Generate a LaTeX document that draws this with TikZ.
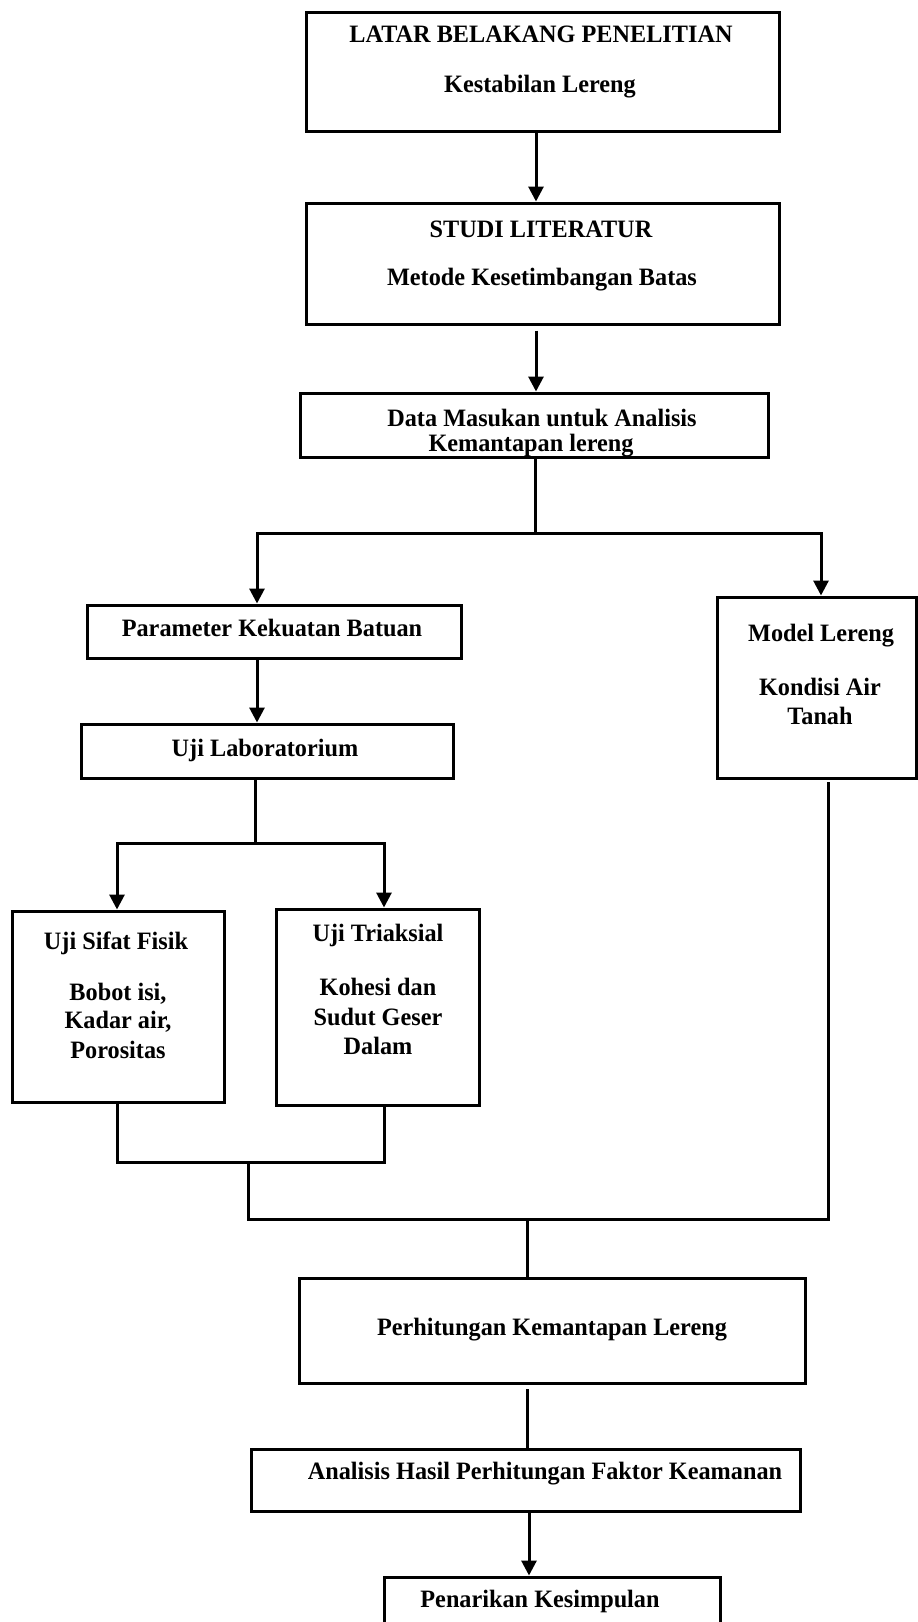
\documentclass[tikz,border=0pt]{standalone}
\usepackage{fontspec}
\setmainfont{Liberation Serif}
\usetikzlibrary{arrows.meta}
\begin{document}
\begin{tikzpicture}[x=1pt,y=-1pt,
  boxx/.style={draw,line width=3pt,inner sep=0pt},
  txt/.style={font=\bfseries\fontsize{25}{28}\selectfont,inner sep=0pt,anchor=center,align=center},
  ln/.style={line width=3pt,line cap=rect},
  arr/.style={line width=3pt,-{Triangle[length=15pt,width=15pt]}}]
\useasboundingbox (0,0) rectangle (918,1622);
\newcommand{\tx}[1]{\scalebox{0.97}[1]{#1}}
% boxes (corner based)
\newcommand{\bx}[5]{\node[boxx,minimum width={#4-#2},minimum height={#5-#3}] (#1) at ({(#2+#4)/2},{(#3+#5)/2}) {};}
\bx{b1}{306}{12}{779}{131}
\bx{b2}{306}{203}{779}{324}
\bx{b3}{300}{393}{768}{457}
\bx{bp}{87}{605}{461}{658}
\bx{bl}{81}{724}{453}{778}
\bx{bf}{12}{911}{224}{1102}
\bx{bt}{276}{909}{479}{1105}
\bx{bm}{717}{597}{916}{778}
\bx{bh}{299}{1278}{805}{1383}
\bx{ba}{251}{1449}{800}{1511}
\bx{bk}{384}{1577}{720}{1650}
% texts
\node[txt] (t1a) at (541,34) {\tx{LATAR BELAKANG PENELITIAN}};
\node[txt] (t1b) at (540,87) {\tx{Kestabilan Lereng}};
\node[txt] (t2a) at (541,229) {\tx{STUDI LITERATUR}};
\node[txt] (t2b) at (542,280) {\tx{Metode Kesetimbangan Batas}};
\node[txt] (t3a) at (542,418) {\tx{Data Masukan untuk Analisis}};
\node[txt] (t3b) at (531,446) {\tx{Kemantapan lereng}};
\node[txt] (tp) at (272,628) {\tx{Parameter Kekuatan Batuan}};
\node[txt] (tl) at (265,750) {\tx{Uji Laboratorium}};
\node[txt] (tfa) at (116,943) {\tx{Uji Sifat Fisik}};
\node[txt] (tfb) at (118,994) {\tx{Bobot isi,}};
\node[txt] (tfc) at (118,1022) {\tx{Kadar air,}};
\node[txt] (tfd) at (118,1050) {\tx{Porositas}};
\node[txt] (tta) at (378,935) {\tx{Uji Triaksial}};
\node[txt] (ttb) at (378,987) {\tx{Kohesi dan}};
\node[txt] (ttc) at (378,1017) {\tx{Sudut Geser}};
\node[txt] (ttd) at (378,1046) {\tx{Dalam}};
\node[txt] (tma) at (821,636) {\tx{Model Lereng}};
\node[txt] (tmb) at (820,687) {\tx{Kondisi Air}};
\node[txt] (tmc) at (820,716) {\tx{Tanah}};
\node[txt] (th) at (552,1330) {\tx{Perhitungan Kemantapan Lereng}};
\node[txt] (ta) at (545,1474) {\tx{Analisis Hasil Perhitungan Faktor Keamanan}};
\node[txt] (tk) at (540,1601) {\tx{Penarikan Kesimpulan}};
% junction coordinates
\coordinate (j1) at (535,533);
\coordinate (j1l) at (257,533);
\coordinate (j1r) at (821,533);
\coordinate (j2) at (255,843);
\coordinate (j2l) at (117,843);
\coordinate (j2r) at (384,843);
\coordinate (j3l) at (117,1162);
\coordinate (j3r) at (384,1162);
\coordinate (j3) at (248,1162);
\coordinate (j4l) at (248,1219);
\coordinate (j4r) at (828,1219);
\coordinate (j4) at (527,1219);
% connectors
\draw[arr] (b1.south -| 536,0) -- (b2.north -| 536,0);
\draw[arr] ([yshift=-5pt]b2.south -| 536,0) -- (b3.north -| 536,0);
\draw[ln] (b3.south -| j1) -- (j1);
\draw[ln] (j1l) -- (j1r);
\draw[arr] (j1l) -- (bp.north -| j1l);
\draw[arr] (j1r) -- (bm.north -| j1r);
\draw[arr] (bp.south -| j1l) -- (bl.north -| j1l);
\draw[ln] (bl.south -| j2) -- (j2);
\draw[ln] (j2l) -- (j2r);
\draw[arr] (j2l) -- (bf.north -| j2l);
\draw[arr] (j2r) -- (bt.north -| j2r);
\draw[ln] (bf.south -| j3l) -- (j3l) -- (j3r) -- (bt.south -| j3r);
\draw[ln] (j3) -- (j4l) -- (j4r) -- ([yshift=-4pt]bm.south -| j4r);
\draw[ln] (j4) -- (bh.north -| j4);
\draw[ln] ([yshift=-6pt]bh.south -| 527,0) -- (ba.north -| 527,0);
\draw[arr] (ba.south -| 529,0) -- (bk.north -| 529,0);
\end{tikzpicture}
\end{document}
